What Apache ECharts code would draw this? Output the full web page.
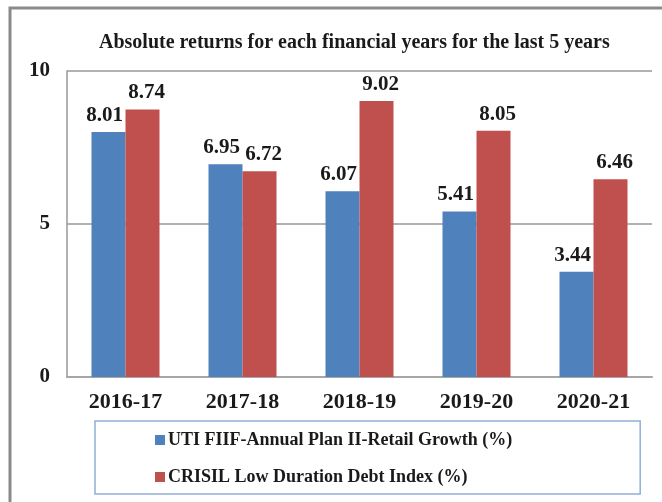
<!DOCTYPE html>
<html>
<head>
<meta charset="utf-8">
<script src="https://cdn.jsdelivr.net/npm/echarts@6/dist/echarts.min.js"></script>
<style>
  html, body { margin: 0; padding: 0; background: #fff; }
  #chart { width: 662px; height: 502px; }
</style>
</head>
<body>
<div id="chart"></div>
<script>
const TITLE = "Absolute returns for each financial years for the last 5 years";
const CATEGORIES = ["2016-17", "2017-18", "2018-19", "2019-20", "2020-21"];
const FUND_NAME = "UTI FIIF-Annual Plan II-Retail Growth (%)";
const FUND_VALUES = [8.01, 6.95, 6.07, 5.41, 3.44];
const INDEX_NAME = "CRISIL Low Duration Debt Index (%)";
const INDEX_VALUES = [8.74, 6.72, 9.02, 8.05, 6.46];

const FONT = "'Liberation Serif', 'DejaVu Serif', serif";
const TEXT_COLOR = "#1a1a1a";

const chart = echarts.init(document.getElementById("chart"));

// labels sit a little outward from the bar pair, like the original
function barSeries(name, values, color, shiftX) {
  return {
    name,
    type: "bar",
    data: values,
    barWidth: 34,
    barGap: "0%",
    itemStyle: { color },
    label: {
      show: true,
      position: "top",
      distance: 6,
      offset: [shiftX, 0],
      color: TEXT_COLOR,
      fontFamily: FONT,
      fontWeight: "bold",
      fontSize: 21,
      formatter: (p) => p.value.toFixed(2)
    }
  };
}

chart.setOption({
  animation: false,
  backgroundColor: "#fff",
  title: {
    text: TITLE,
    left: 94,
    top: 28,
    textStyle: {
      fontFamily: FONT,
      fontWeight: "bold",
      fontSize: 20,
      color: TEXT_COLOR
    }
  },
  graphic: [
    {
      type: "rect",
      shape: { x: 10, y: 8, width: 700, height: 560 },
      style: { fill: "none", stroke: "#8a8a8a", lineWidth: 3 },
      silent: true
    }
  ],
  legend: {
    orient: "vertical",
    left: 95,
    top: 421,
    padding: [9, 128, 7, 60],
    itemGap: 17,
    itemWidth: 10,
    itemHeight: 10,
    icon: "rect",
    borderColor: "#8eb0d8",
    borderWidth: 1.5,
    textStyle: {
      fontFamily: FONT,
      fontWeight: "bold",
      fontSize: 18,
      lineHeight: 20,
      color: TEXT_COLOR,
      padding: [0, 0, 0, -2]
    },
    data: [FUND_NAME, INDEX_NAME]
  },
  grid: {
    left: 67,
    right: 10,
    top: 71,
    bottom: 125,
    containLabel: false
  },
  xAxis: {
    type: "category",
    data: CATEGORIES,
    axisLine: { lineStyle: { color: "#a6a6a6", width: 2 } },
    axisTick: { show: false },
    axisLabel: {
      margin: 14,
      color: TEXT_COLOR,
      fontFamily: FONT,
      fontWeight: "bold",
      fontSize: 22
    }
  },
  yAxis: {
    type: "value",
    min: 0,
    max: 10,
    interval: 5,
    axisLine: { show: true, lineStyle: { color: "#999", width: 1.5 } },
    axisTick: { show: false },
    splitLine: { lineStyle: { color: "#999", width: 1.5 } },
    axisLabel: {
      margin: 17,
      color: TEXT_COLOR,
      fontFamily: FONT,
      fontWeight: "bold",
      fontSize: 21
    }
  },
  series: [
    barSeries(FUND_NAME, FUND_VALUES, "#4f81bd", -4),
    barSeries(INDEX_NAME, INDEX_VALUES, "#c0504d", 4)
  ]
});
</script>
</body>
</html>
